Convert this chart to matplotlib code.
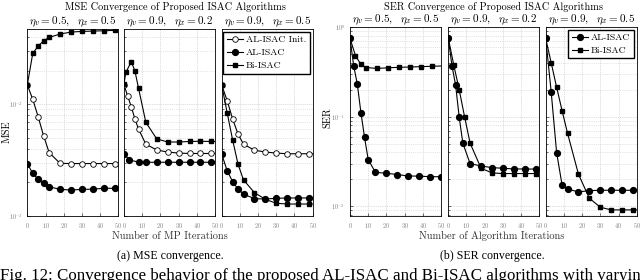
import numpy as np
import matplotlib
matplotlib.use("Agg")
import matplotlib.pyplot as plt

plt.rcParams['mathtext.fontset'] = 'cm'
plt.rcParams['font.family'] = ['cmr10', 'DejaVu Serif']
plt.rcParams['axes.formatter.use_mathtext'] = True

# ---- MSE data (three channel settings) ----
mse_titles = [r'$\eta_v = 0.5,\ \ \eta_x = 0.5$',
              r'$\eta_v = 0.9,\ \ \eta_x = 0.2$',
              r'$\eta_v = 0.9,\ \ \eta_x = 0.5$']

# panel 1
mse1_it = [0, 3, 6, 9, 12, 18, 24, 30, 36, 42, 48, 50]
mse1_init = [0.0149, 0.0111, 0.0077, 0.0052, 0.0037, 0.00296, 0.00295, 0.00295, 0.00295, 0.00295, 0.00295, 0.00295]
mse1_al = [0.00294, 0.00241, 0.00213, 0.00196, 0.00183, 0.00173, 0.00171, 0.00173, 0.00174, 0.00177, 0.00177, 0.00177]
mse1_bi = [0.0149, 0.0286, 0.0333, 0.0371, 0.0398, 0.0426, 0.0444, 0.0450, 0.0453, 0.0456, 0.0460, 0.0461]

# panel 2
mse2_it_init = [0, 2, 4, 6, 8, 12, 18, 24, 30, 36, 42, 48, 50]
mse2_init = [0.0149, 0.0119, 0.0095, 0.0074, 0.0060, 0.0044, 0.0039, 0.00374, 0.00366, 0.00363, 0.00363, 0.00363, 0.00363]
mse2_it_al = [0, 3, 8, 12, 18, 24, 30, 36, 42, 48, 50]
mse2_al = [0.00359, 0.00317, 0.00304, 0.00303, 0.00303, 0.00303, 0.00303, 0.00303, 0.00303, 0.00303, 0.00303]
mse2_it_bi = [0, 1, 4, 6, 8, 12, 18, 24, 30, 36, 42, 48, 50]
mse2_bi = [0.0152, 0.0193, 0.0241, 0.0199, 0.0139, 0.0069, 0.0049, 0.0046, 0.0046, 0.00465, 0.00467, 0.00465, 0.00465]

# panel 3
mse3_it = [0, 3, 6, 9, 12, 18, 24, 30, 36, 42, 48, 50]
mse3_init = [0.0149, 0.0108, 0.0074, 0.0054, 0.0044, 0.00388, 0.00374, 0.00366, 0.00361, 0.00361, 0.00361, 0.00361]
mse3_al = [0.00359, 0.00254, 0.00203, 0.00174, 0.00157, 0.00143, 0.00142, 0.00144, 0.00145, 0.00145, 0.00145, 0.00145]
mse3_bi = [0.0149, 0.0084, 0.0048, 0.0029, 0.0021, 0.00162, 0.00141, 0.0013, 0.00128, 0.00128, 0.00128, 0.00128]

# ---- SER data ----
ser1_it_al = [0, 2, 4, 6, 8, 10, 14, 20, 26, 32, 38, 44, 50]
ser1_al = [0.748, 0.372, 0.232, 0.111, 0.0586, 0.0332, 0.0239, 0.0234, 0.0226, 0.0218, 0.0217, 0.0214, 0.0214]
ser1_it_bi = [0, 3, 6, 9, 15, 21, 27, 33, 39, 45, 50]
ser1_bi = [0.748, 0.479, 0.382, 0.353, 0.345, 0.351, 0.355, 0.358, 0.361, 0.365, 0.367]

ser2_it_al = [0, 2, 4, 6, 8, 12, 18, 24, 30, 36, 42, 48, 50]
ser2_al = [0.748, 0.370, 0.226, 0.0985, 0.0505, 0.0299, 0.0282, 0.027, 0.0266, 0.0261, 0.0261, 0.026, 0.026]
ser2_it_bi = [0, 3, 6, 9, 12, 18, 24, 30, 36, 42, 48, 50]
ser2_bi = [0.748, 0.377, 0.199, 0.0985, 0.0505, 0.0266, 0.0236, 0.0232, 0.0232, 0.0232, 0.0232, 0.0232]

ser3_it = [0, 3, 6, 9, 12, 18, 24, 30, 36, 42, 48, 50]
ser3_al = [0.748, 0.19, 0.0397, 0.0173, 0.0156, 0.01447, 0.01496, 0.0151, 0.0151, 0.0151, 0.0151, 0.0151]
ser3_bi = [0.748, 0.40, 0.213, 0.1166, 0.0653, 0.0228, 0.0123, 0.00977, 0.00912, 0.00912, 0.00912, 0.00912]

labels = ['AL-ISAC Init.', 'AL-ISAC', 'Bi-ISAC']

sty_init = dict(color='k', lw=0.8, marker='o', ms=4.0, mfc='white', mec='k', mew=0.6)
sty_al = dict(color='k', lw=0.8, marker='o', ms=4.2, mfc='k', mec='k')
sty_bi = dict(color='k', lw=0.8, marker='s', ms=3.5, mfc='k', mec='k')

tick_col = '#808080'
leg_kw = dict(loc='upper right', fontsize=7, frameon=True, fancybox=False,
              edgecolor='k', framealpha=1, borderpad=0.35, labelspacing=0.42,
              handlelength=1.7, handletextpad=0.3, borderaxespad=0.3)


def style_axis(ax, ylim, first):
    ax.set_yscale('log')
    ax.set_xlim(0, 50)
    ax.set_ylim(*ylim)
    ax.set_xticks([0, 10, 20, 30, 40, 50])
    ax.grid(True, which='major', ls=':', lw=0.5, color='#bbbbbb')
    ax.grid(True, which='minor', axis='y', ls=':', lw=0.5, color='#cccccc')
    ax.tick_params(which='both', direction='in', labelsize=4.5, colors='k',
                   labelcolor=tick_col, length=2, width=0.4, pad=3.5)
    ax.tick_params(which='minor', length=1.2)
    for s in ax.spines.values():
        s.set_linewidth(0.6)
    if not first:
        ax.tick_params(axis='y', which='both', labelleft=False)


def no_last(n):
    return list(range(n - 1))


fig = plt.figure(figsize=(6.4, 2.8), dpi=100)

bot = 1 - 216 / 280
mse_h = (216 - 29.3) / 280
ser_h = (216 - 27) / 280
mse_x = [27.3, 124.0, 221.7]
ser_x = [350.0, 448.3, 545.7]
w_px = 91

mse_axes = [fig.add_axes([x / 640, bot, w_px / 640, mse_h]) for x in mse_x]
ser_axes = [fig.add_axes([x / 640, bot, w_px / 640, ser_h]) for x in ser_x]

# MSE panels
a = mse_axes[0]
a.plot(mse1_it, mse1_init, markevery=no_last(len(mse1_it)), **sty_init)
a.plot(mse1_it, mse1_al, markevery=no_last(len(mse1_it)), **sty_al)
a.plot(mse1_it, mse1_bi, markevery=no_last(len(mse1_it)), **sty_bi)

a = mse_axes[1]
a.plot(mse2_it_init, mse2_init, markevery=no_last(len(mse2_it_init)), **sty_init)
a.plot(mse2_it_al, mse2_al, markevery=no_last(len(mse2_it_al)), **sty_al)
a.plot(mse2_it_bi, mse2_bi, markevery=no_last(len(mse2_it_bi)), **sty_bi)

a = mse_axes[2]
h1, = a.plot(mse3_it, mse3_init, markevery=no_last(len(mse3_it)), **sty_init)
h2, = a.plot(mse3_it, mse3_al, markevery=no_last(len(mse3_it)), **sty_al)
h3, = a.plot(mse3_it, mse3_bi, markevery=no_last(len(mse3_it)), **sty_bi)
a.legend([h1, h2, h3], labels, **leg_kw)

for i, a in enumerate(mse_axes):
    style_axis(a, (1e-3, 0.047), i == 0)
    a.set_title(mse_titles[i], fontsize=8, pad=3)

# SER panels
a = ser_axes[0]
a.plot(ser1_it_al, ser1_al, **sty_al)
a.plot(ser1_it_bi, ser1_bi, markevery=no_last(len(ser1_it_bi)), **sty_bi)

a = ser_axes[1]
a.plot(ser2_it_al, ser2_al, markevery=no_last(len(ser2_it_al)), **sty_al)
a.plot(ser2_it_bi, ser2_bi, markevery=no_last(len(ser2_it_bi)), **sty_bi)

a = ser_axes[2]
g1, = a.plot(ser3_it, ser3_al, markevery=no_last(len(ser3_it)), **sty_al)
g2, = a.plot(ser3_it, ser3_bi, markevery=no_last(len(ser3_it)), **sty_bi)
a.legend([g1, g2], labels[1:], **leg_kw)

for i, a in enumerate(ser_axes):
    style_axis(a, (0.0078, 1.0), i == 0)
    a.set_title(mse_titles[i], fontsize=8, pad=3)

# figure texts
fig.text(175 / 640, 1 - 7 / 280, 'MSE Convergence of Proposed ISAC Algorithms',
         ha='center', va='center', fontsize=7.4)
fig.text(493 / 640, 1 - 7 / 280, 'SER Convergence of Proposed ISAC Algorithms',
         ha='center', va='center', fontsize=7.4)
fig.text(7 / 640, 1 - 132 / 280, 'MSE', rotation=90, ha='center', va='center', fontsize=7.5)
fig.text(328 / 640, 1 - 118 / 280, 'SER', rotation=90, ha='center', va='center', fontsize=7.5)
fig.text(170 / 640, 1 - 236 / 280, 'Number of MP Iterations', ha='center', va='center',
         fontsize=7.5, color='#333333')
fig.text(492 / 640, 1 - 236 / 280, 'Number of Algorithm Iterations', ha='center',
         va='center', fontsize=7.5, color='#333333')

cap = dict(family='Liberation Serif', ha='center', va='center', fontsize=8.6)
fig.text(170 / 640, 1 - 256.5 / 280, '(a) MSE convergence.', **cap)
fig.text(492 / 640, 1 - 256.5 / 280, '(b) SER convergence.', **cap)
fig.text(0.0, 1 - 279.5 / 280,
         'Fig. 12: Convergence behavior of the proposed AL-ISAC and Bi-ISAC algorithms with varying',
         family='Liberation Serif', ha='left', va='baseline', fontsize=12.2)

fig.savefig('out.png', dpi=100)
